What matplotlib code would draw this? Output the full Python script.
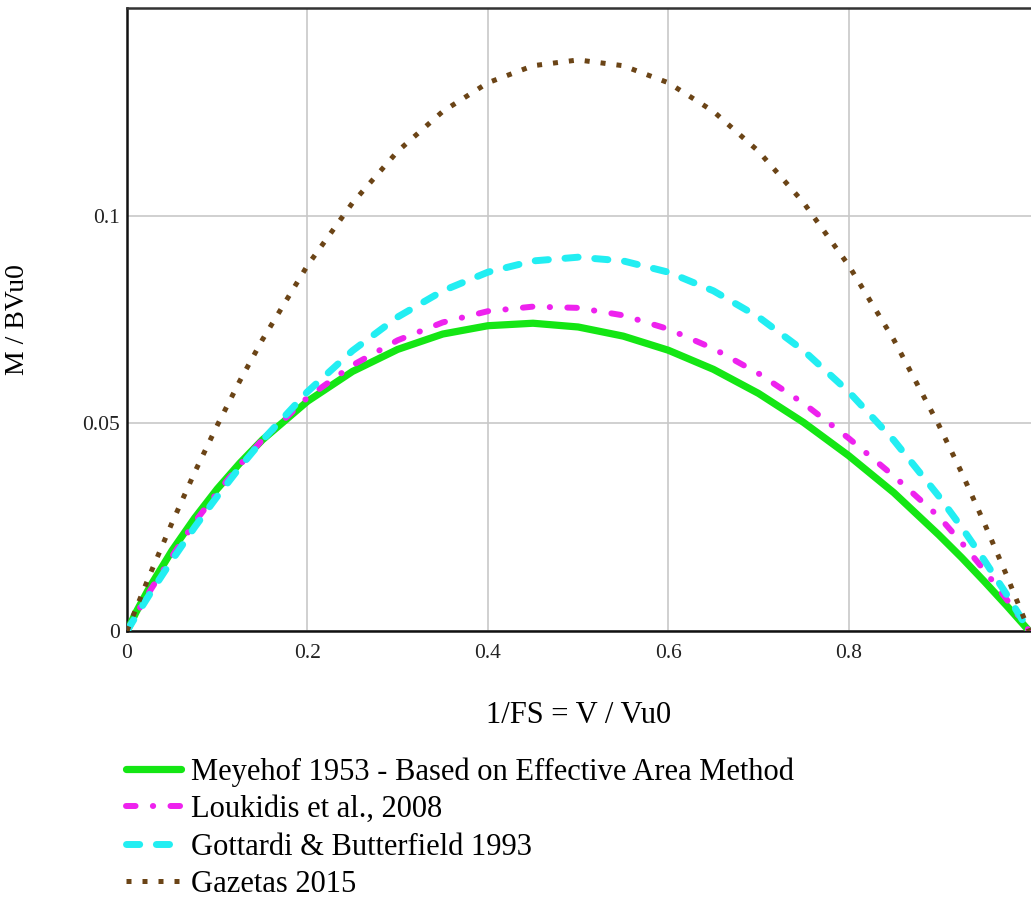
import matplotlib
matplotlib.use("Agg")
import matplotlib.pyplot as plt

plt.rcParams["font.family"] = ["Liberation Serif", "DejaVu Serif"]

# load ratio V / Vu0
v_ratio = [0, 0.01, 0.025, 0.05, 0.075, 0.1, 0.125, 0.15, 0.2, 0.25, 0.3, 0.35,
           0.4, 0.45, 0.5, 0.55, 0.6, 0.65, 0.7, 0.75, 0.8, 0.85, 0.9, 0.925,
           0.95, 0.975, 1.0]

# normalised moment capacity M / (B Vu0) for each method
meyerhof = [0, 0.0045, 0.0105, 0.0194, 0.0272, 0.0342, 0.0404, 0.0460, 0.0553,
            0.0625, 0.0678, 0.0715, 0.0735, 0.0741, 0.0732, 0.0710, 0.0676,
            0.0630, 0.0572, 0.0502, 0.0422, 0.0333, 0.0231, 0.0177, 0.0120,
            0.0061, 0]
loukidis = [0, 0.0040, 0.0095, 0.0180, 0.0262, 0.0333, 0.0400, 0.0460, 0.0562,
            0.0640, 0.0700, 0.0743, 0.0770, 0.0781, 0.0778, 0.0760, 0.0727,
            0.0680, 0.0620, 0.0548, 0.0464, 0.0373, 0.0275, 0.0213, 0.0147,
            0.0076, 0]
gottardi = [0, 0.0036, 0.0088, 0.0171, 0.0250, 0.0324, 0.0394, 0.0459, 0.0576,
            0.0675, 0.0756, 0.0819, 0.0864, 0.0891, 0.0900, 0.0891, 0.0864,
            0.0819, 0.0756, 0.0675, 0.0576, 0.0459, 0.0324, 0.0250, 0.0171,
            0.0088, 0]
gazetas = [0, 0.0054, 0.0134, 0.0261, 0.0382, 0.0495, 0.0602, 0.0701, 0.0880,
           0.1031, 0.1155, 0.1251, 0.1320, 0.1361, 0.1375, 0.1361, 0.1320,
           0.1251, 0.1155, 0.1031, 0.0880, 0.0701, 0.0495, 0.0382, 0.0261,
           0.0134, 0]

x_ticks = [0, 0.2, 0.4, 0.6, 0.8]
x_ticklabels = ["0", "0.2", "0.4", "0.6", "0.8"]
y_ticks = [0, 0.05, 0.1]
y_ticklabels = ["0", "0.05", "0.1"]

W, H = 1031, 905
fig = plt.figure(figsize=(W / 100, H / 100), dpi=100)
ax = fig.add_axes([127 / W, 1 - 631 / H, (W - 127) / W, 623 / H])

ax.plot(v_ratio, meyerhof, color="#14e614", lw=5.2, solid_capstyle="round",
        label="Meyehof 1953 - Based on Effective Area Method", zorder=3)
ax.plot(v_ratio, loukidis, color="#ee22ee", lw=4.3, dash_capstyle="round",
        linestyle=(0, (1.6, 2.9, 0.05, 2.9)),
        label="Loukidis et al., 2008", zorder=4)
ax.plot(v_ratio, gottardi, color="#22eef2", lw=5.0, dash_capstyle="round",
        linestyle=(0, (1.9, 2.4)),
        label="Gottardi & Butterfield 1993", zorder=5)
ax.plot(v_ratio, gazetas, color="#6b4416", lw=3.6, dash_capstyle="butt",
        linestyle=(0, (1, 2.2)),
        label="Gazetas 2015", zorder=6)

ax.set_xlim(0, 1.002)
ax.set_ylim(0, 0.15)
ax.set_xticks(x_ticks)
ax.set_xticklabels(x_ticklabels)
ax.set_yticks(y_ticks)
ax.set_yticklabels(y_ticklabels)
ax.tick_params(axis="both", length=0, labelsize=15.5, colors="#222222")
ax.tick_params(axis="x", pad=9)
ax.tick_params(axis="y", pad=5)
ax.grid(True, color="#c8c8c8", lw=1.2)
ax.set_axisbelow(True)

for side in ["left", "bottom"]:
    ax.spines[side].set_linewidth(1.8)
    ax.spines[side].set_color("#111111")
ax.spines["top"].set_linewidth(1.8)
ax.spines["top"].set_color("#333333")
ax.spines["right"].set_visible(False)

# axis titles, placed by their baseline / centre
ax.set_xlabel("1/FS = V / Vu0", fontsize=22)
ax.xaxis.set_label_coords(0.5, (631 - 723) / 623)
ax.xaxis.label.set_va("baseline")
ax.set_ylabel("M / BVu0", fontsize=20)
ax.yaxis.set_label_coords((18 - 127) / (W - 127), 0.5)
ax.yaxis.label.set_va("center")

handles, labels = ax.get_legend_handles_labels()
fig.legend(handles, labels, loc="upper left",
           bbox_to_anchor=(126 / W, 1 - 757 / H), frameon=False,
           fontsize=22, handlelength=1.8, handletextpad=0.33,
           labelspacing=0.28, borderpad=0, borderaxespad=0)

fig.savefig("out.png", dpi=100)
